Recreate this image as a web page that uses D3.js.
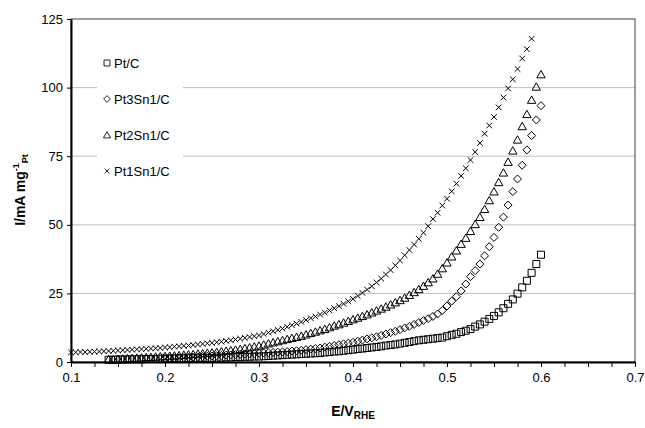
<!DOCTYPE html>
<meta charset="utf-8">
<script src="https://d3js.org/d3.v7.min.js"></script>
<style>
  body { margin: 0; background: white; }
  text { font-family: Arial, "Liberation Sans", sans-serif; }
  .grid { stroke: #c0c0c0; stroke-width: 1; }
  .axis text { font-size: 13px; fill: black; }
  .axis line { stroke: black; }
</style>
<div id="chart"></div>
<script>
  // potential, V vs RHE (shared by all series)
  const potential = [0.100, 0.105, 0.110, 0.115, 0.120, 0.125, 0.130, 0.135, 0.140, 0.145,
    0.150, 0.155, 0.160, 0.165, 0.170, 0.175, 0.180, 0.185, 0.190, 0.195,
    0.200, 0.205, 0.210, 0.215, 0.220, 0.225, 0.230, 0.235, 0.240, 0.245,
    0.250, 0.255, 0.260, 0.265, 0.270, 0.275, 0.280, 0.285, 0.290, 0.295,
    0.300, 0.305, 0.310, 0.315, 0.320, 0.325, 0.330, 0.335, 0.340, 0.345,
    0.350, 0.355, 0.360, 0.365, 0.370, 0.375, 0.380, 0.385, 0.390, 0.395,
    0.400, 0.405, 0.410, 0.415, 0.420, 0.425, 0.430, 0.435, 0.440, 0.445,
    0.450, 0.455, 0.460, 0.465, 0.470, 0.475, 0.480, 0.485, 0.490, 0.495,
    0.500, 0.505, 0.510, 0.515, 0.520, 0.525, 0.530, 0.535, 0.540, 0.545,
    0.550, 0.555, 0.560, 0.565, 0.570, 0.575, 0.580, 0.585, 0.590, 0.595,
    0.600];

  // current, mA per mg Pt
  const ptC = [null, null, null, null, null, null, null, null,
    0.8, 0.8, 0.9, 0.9, 0.9, 1.0, 1.0, 1.0, 1.1, 1.1,
    1.1, 1.2, 1.2, 1.2, 1.3, 1.3, 1.3, 1.4, 1.4, 1.4,
    1.5, 1.5, 1.5, 1.6, 1.6, 1.7, 1.7, 1.8, 1.8, 1.9,
    1.9, 2.0, 2.0, 2.1, 2.2, 2.3, 2.4, 2.5, 2.6, 2.7,
    2.8, 2.9, 3.0, 3.1, 3.2, 3.3, 3.5, 3.6, 3.8, 3.9,
    4.1, 4.3, 4.5, 4.7, 4.9, 5.1, 5.3, 5.5, 5.7, 6.0,
    6.2, 6.4, 6.7, 7.0, 7.3, 7.6, 7.9, 8.1, 8.3, 8.5,
    8.7, 8.9, 9.4, 9.9, 10.3, 10.9, 11.4, 12.0, 12.9, 13.7,
    14.7, 15.7, 16.8, 18.1, 19.6, 21.2, 22.8, 24.9, 27.2, 29.6,
    32.5, 35.7, 39.1];

  const pt3Sn1 = [null, null, null, null, null, null, null, null, null, null,
    null, null, null, null, null, null, null, null, null, null,
    1.2, 1.3, 1.4, 1.5, 1.6, 1.7, 1.8, 1.9, 2.0, 2.1,
    2.2, 2.3, 2.4, 2.5, 2.6, 2.7, 2.8, 2.9, 3.0, 3.1,
    3.2, 3.3, 3.4, 3.5, 3.6, 3.7, 3.8, 4.0, 4.1, 4.3,
    4.5, 4.7, 4.9, 5.1, 5.4, 5.7, 6.0, 6.3, 6.6, 6.9,
    7.2, 7.6, 8.0, 8.4, 8.8, 9.2, 9.7, 10.2, 10.7, 11.2,
    11.8, 12.4, 13.0, 13.7, 14.4, 15.1, 15.8, 16.6, 17.5, 18.8,
    20.4, 22.2, 23.8, 25.9, 28.4, 31.1, 33.3, 35.7, 38.7, 42.0,
    45.4, 49.1, 52.8, 57.2, 62.1, 66.7, 71.7, 77.3, 82.5, 88.2,
    93.4];

  const pt2Sn1 = [null, null, null, null, null, null, null, null,
    1.0, 1.0, 1.1, 1.2, 1.3, 1.4, 1.5, 1.6, 1.7, 1.8,
    1.9, 2.0, 2.1, 2.2, 2.3, 2.4, 2.6, 2.7, 2.8, 3.0,
    3.1, 3.3, 3.4, 3.6, 3.8, 4.0, 4.2, 4.4, 4.7, 5.0,
    5.3, 5.6, 5.9, 6.3, 6.7, 7.1, 7.5, 7.9, 8.3, 8.7,
    9.1, 9.5, 10.0, 10.5, 11.0, 11.5, 12.0, 12.6, 13.2, 13.7,
    14.3, 14.9, 15.5, 16.1, 16.7, 17.3, 18.0, 18.7, 19.4, 20.1,
    20.9, 21.7, 22.5, 23.4, 24.4, 25.4, 26.5, 27.7, 29.0, 30.4,
    32.1, 34.1, 36.2, 38.4, 40.6, 43.0, 45.2, 47.7, 50.2, 52.8,
    55.7, 58.9, 62.1, 65.5, 69.0, 72.9, 77.0, 81.0, 85.9, 90.3,
    95.5, 100.3, 104.8];

  const pt1Sn1 = [3.5, 3.5, 3.6, 3.6, 3.7, 3.8, 3.8, 3.9, 4.0, 4.1,
    4.2, 4.3, 4.4, 4.5, 4.6, 4.7, 4.8, 4.9, 5.0, 5.1,
    5.3, 5.4, 5.6, 5.7, 5.9, 6.0, 6.2, 6.4, 6.6, 6.8,
    7.0, 7.2, 7.4, 7.7, 7.9, 8.2, 8.5, 8.8, 9.1, 9.4,
    9.7, 10.2, 10.7, 11.2, 11.7, 12.2, 12.8, 13.4, 14.0, 14.6,
    15.3, 16.0, 16.6, 17.3, 18.0, 18.8, 19.6, 20.4, 21.2, 22.1,
    23.0, 24.1, 25.2, 26.4, 27.6, 29.0, 30.4, 31.9, 33.5, 35.2,
    37.0, 38.9, 40.8, 42.8, 44.9, 47.1, 49.5, 52.1, 54.4, 57.0,
    59.5, 62.2, 65.0, 67.8, 70.6, 73.6, 76.5, 79.8, 83.2, 86.2,
    89.3, 92.8, 96.4, 99.7, 103.0, 106.8, 110.6, 114.0, 117.8,
    null, null];

  const seriesNames = ["Pt/C", "Pt3Sn1/C", "Pt2Sn1/C", "Pt1Sn1/C"];
  const seriesValues = [ptC, pt3Sn1, pt2Sn1, pt1Sn1];

  const xTicks = [0.1, 0.2, 0.3, 0.4, 0.5, 0.6, 0.7];
  const yTicks = [0, 25, 50, 75, 100, 125];

  // marker shapes, one per series
  const markers = [
    "M-3.5,-3.5h7v7h-7z",
    "M0,-4L4,0L0,4L-4,0Z",
    "M0,-4L4.2,3.4L-4.2,3.4Z",
    "M-2.8,-2.8L2.8,2.8M-2.8,2.8L2.8,-2.8"
  ];

  const W = 645, H = 428;
  const margin = { top: 19, right: 10, bottom: 66, left: 71 };

  const svg = d3.select("#chart")
    .append("svg")
    .attr("width", W)
    .attr("height", H);

  const x = d3.scaleLinear().domain([0.1, 0.7]).range([margin.left, W - margin.right]);
  const y = d3.scaleLinear().domain([0, 125]).range([H - margin.bottom, margin.top]);

  // gridlines
  svg.append("g")
    .selectAll("line")
    .data(yTicks.filter(d => d > 0 && d < 125))
    .join("line")
    .attr("class", "grid")
    .attr("x1", x(0.1)).attr("x2", x(0.7))
    .attr("y1", d => y(d)).attr("y2", d => y(d));

  // frame
  svg.append("rect")
    .attr("x", x(0.1)).attr("y", y(125))
    .attr("width", x(0.7) - x(0.1)).attr("height", y(0) - y(125))
    .attr("fill", "none").attr("stroke", "#404040").attr("stroke-width", 1);

  // legend background hides gridlines
  const legendX = 97, legendY = 44;
  svg.append("rect")
    .attr("x", legendX).attr("y", legendY)
    .attr("width", 86).attr("height", 142)
    .attr("fill", "white");

  // data markers
  seriesValues.forEach((vals, i) => {
    svg.append("g")
      .selectAll("path")
      .data(potential.map((e, k) => [e, vals[k]]).filter(d => d[1] != null))
      .join("path")
      .attr("d", markers[i])
      .attr("transform", d => `translate(${x(d[0])},${y(d[1])})`)
      .attr("fill", "none")
      .attr("stroke", "black")
      .attr("stroke-width", 1);
  });

  // axes
  const minorX = d3.range(0.1, 0.7001, 0.025);
  svg.append("g")
    .attr("class", "axis")
    .attr("transform", `translate(0,${y(0)})`)
    .call(d3.axisBottom(x).tickValues(minorX).tickSize(5).tickPadding(6).tickSizeOuter(0)
      .tickFormat(d => xTicks.some(t => Math.abs(t - d) < 1e-6) ? d3.format(".1f")(d) : ""))
    .call(g => g.select(".domain").attr("stroke", "black").attr("stroke-width", 2));

  svg.append("g")
    .attr("class", "axis")
    .attr("transform", `translate(${x(0.1)},0)`)
    .call(d3.axisLeft(y).tickValues(yTicks).tickSize(4).tickPadding(4).tickSizeOuter(0))
    .call(g => g.select(".domain").attr("stroke", "black").attr("stroke-width", 2));

  // legend
  const legend = svg.append("g");
  seriesNames.forEach((name, i) => {
    const ly = 63 + i * 36;
    legend.append("path")
      .attr("d", markers[i])
      .attr("transform", `translate(107,${ly}) scale(0.85)`)
      .attr("fill", "none").attr("stroke", "black");
    legend.append("text")
      .attr("x", 114).attr("y", ly).attr("dy", "0.35em")
      .style("font-size", "13px")
      .text(name);
  });

  // axis titles
  const xt = svg.append("text")
    .attr("x", 353).attr("y", 416)
    .attr("text-anchor", "middle")
    .style("font-size", "14px").style("font-weight", "bold");
  xt.append("tspan").text("E/V");
  xt.append("tspan").attr("dy", 3).style("font-size", "10px").text("RHE");

  const yt = svg.append("text")
    .attr("transform", "translate(25,190) rotate(-90)")
    .attr("text-anchor", "middle")
    .style("font-size", "14px").style("font-weight", "bold");
  yt.append("tspan").text("I/mA mg");
  yt.append("tspan").attr("dy", -6).style("font-size", "9px").text("-1");
  yt.append("tspan").attr("dy", 9).style("font-size", "9px").text("Pt");
</script>
